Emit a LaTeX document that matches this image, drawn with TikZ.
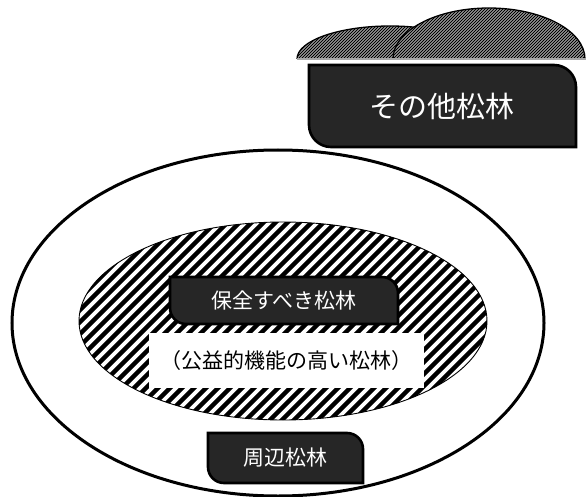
\documentclass[tikz,border=0pt]{standalone}
\usepackage{fontspec}
\newfontfamily\jp{Noto Sans CJK JP}
\definecolor{boxgray}{HTML}{262626}
\newcommand\tagbox[5]{\filldraw[darkbox] (#1,#2) -- ({#3-#5},#2) .. controls ({#3-0.448*#5},#2) and (#3,{#2+0.448*#5}) .. (#3,{#2+#5}) -- (#3,#4) -- ({#1+#5},#4) .. controls ({#1+0.448*#5},#4) and (#1,{#4-0.448*#5}) .. (#1,{#4-#5}) -- cycle;}
\begin{document}
\begin{tikzpicture}[x=1pt,y=-1pt,
  darkbox/.style={fill=boxgray,draw=black,line width=2.6pt},
  lbl/.style={text=white,font=\jp\fontsize{21}{21}\selectfont,inner sep=0pt},
  hatchfine/.style={line width=1.3pt,black},
  hatchbig/.style={line width=4.3pt,black}]
\useasboundingbox (0,0) rectangle (586,497);
\fill[white] (0,0) rectangle (586,497);
% hills
\begin{scope}
  \clip (297,59) arc[start angle=180,end angle=360,x radius=93,y radius=33] -- cycle;
  \fill[white] (290,0) rectangle (490,60);
  \foreach \i in {0,3,...,300} {\draw[hatchfine] ({280+\i},62) -- ({280+\i+60},2);}
\end{scope}
\draw[line width=1.3pt] (297,59) arc[start angle=180,end angle=360,x radius=93,y radius=33];
\begin{scope}
  \clip (393,59) arc[start angle=180,end angle=360,x radius=96,y radius=51] -- cycle;
  \fill[white] (390,0) rectangle (590,60);
  \foreach \i in {0,3,...,300} {\draw[hatchfine] ({330+\i},62) -- ({330+\i+60},2);}
\end{scope}
\draw[line width=1.3pt] (393,59) arc[start angle=180,end angle=360,x radius=96,y radius=51];
\draw[gray!70,line width=2pt] (297,59) -- (586,59);
% other pine box
\tagbox{309}{65}{576}{147}{22}
\node[lbl,font=\jp\fontsize{29}{29}\selectfont] (other) at (442,106) {その他松林};
% outer ellipse
\draw[line width=3pt] (278,323) ellipse[x radius=266,y radius=173];
% inner hatched ellipse
\begin{scope}
  \clip (283,321) ellipse[x radius=204,y radius=99];
  \fill[white] (70,215) rectangle (495,430);
  \foreach \i in {0,12,...,720} {\draw[hatchbig] ({-160+\i},430) -- ({-160+\i+220},210);}
\end{scope}
\draw[line width=0.9pt] (283,321) ellipse[x radius=204,y radius=99];
% boxes
\tagbox{170}{277}{398}{324}{16}
\node[lbl] (keep) at (284,301) {保全すべき松林};
\node[fill=white,minimum width=275pt,minimum height=55pt,inner sep=0pt,font=\jp\fontsize{21}{21}\selectfont] (pub) at (286.5,360.5) {（公益的機能の高い松林）};
\tagbox{208}{433}{363}{483}{16}
\node[lbl] (around) at (285.5,458) {周辺松林};
\end{tikzpicture}
\end{document}
